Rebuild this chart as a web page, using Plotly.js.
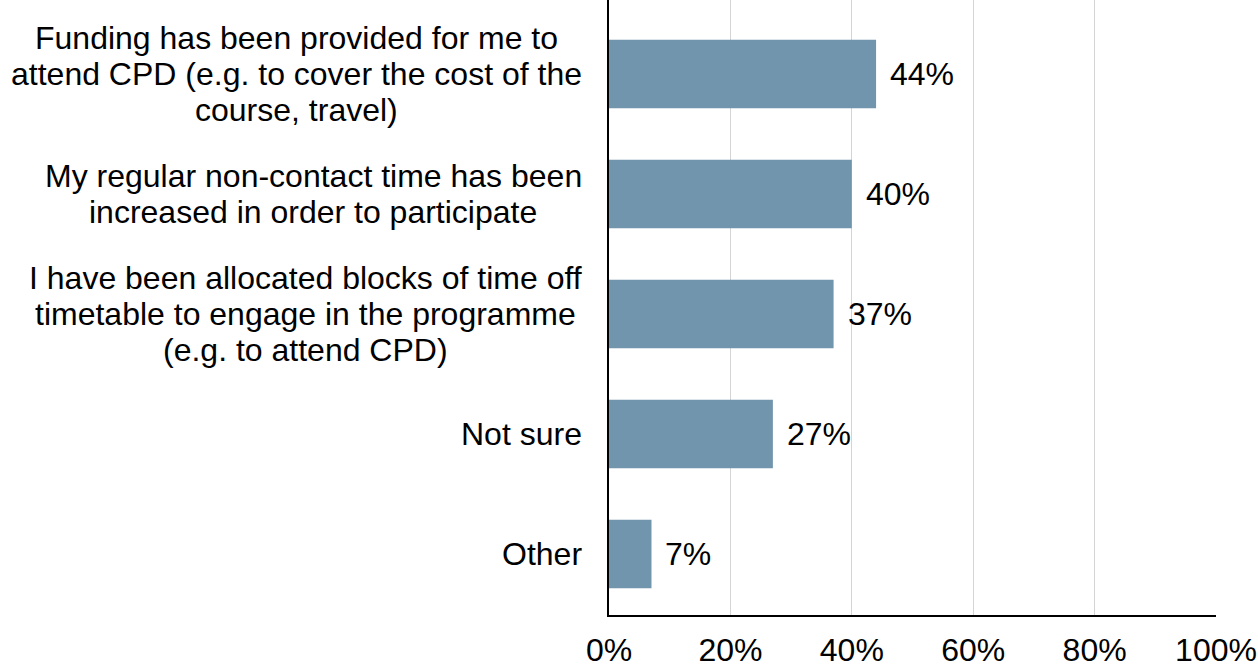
<!DOCTYPE html>
<html>
<head>
<meta charset="utf-8">
<script src="https://cdn.plot.ly/plotly-3.0.1.min.js"></script>
<style>html,body{margin:0;padding:0;background:#fff;}#chart{width:1258px;height:666px;}</style>
</head>
<body>
<div id="chart"></div>
<script>
var categories = [
  "Funding has been provided for me to<br>attend CPD (e.g. to cover the cost of the<br>course, travel)",
  "My regular non-contact time has been<br>increased in order to participate",
  "I have been allocated blocks of time off<br>timetable to engage in the programme<br>(e.g. to attend CPD)",
  "Not sure",
  "Other"
];
var values = [44, 40, 37, 27, 7];
var tickVals = [0, 20, 40, 60, 80, 100];
var tickText = ["0%", "20%", "40%", "60%", "80%", "100%"];

var FONT = "Liberation Sans, Arial, sans-serif";
var FS = 32;
var LINE_H = 36;
var GAP = 27;
var idx = categories.map(function(_, i){ return i; });

var canvas = document.createElement("canvas");
var ctx = canvas.getContext("2d");
ctx.font = FS + "px 'Liberation Sans', Arial, sans-serif";

var trace = {
  type: "bar",
  orientation: "h",
  x: values,
  y: idx,
  width: 0.57,
  marker: {color: "#7295ae", line: {width: 0}},
  hoverinfo: "none"
};

var annotations = [];
categories.forEach(function(c, i){
  var lines = c.split("<br>");
  var W = 0;
  lines.forEach(function(l){ W = Math.max(W, ctx.measureText(l).width); });
  var n = lines.length;
  lines.forEach(function(l, k){
    annotations.push({
      xref: "paper", yref: "y", x: 0, y: i, xanchor: "center", yanchor: "middle",
      text: l, showarrow: false, borderpad: 0, borderwidth: 0,
      xshift: -(GAP + W / 2), yshift: ((n - 1) / 2 - k) * LINE_H,
      font: {family: FONT, size: FS, color: "#000"}
    });
  });
  annotations.push({
    xref: "x", yref: "y", x: values[i], y: i, xanchor: "left", yanchor: "middle",
    text: values[i] + "%", showarrow: false, xshift: 14, borderpad: 0, borderwidth: 0,
    font: {family: FONT, size: FS, color: "#000"}
  });
});

var layout = {
  width: 1258, height: 666,
  margin: {l: 609, r: 42, t: 0, b: 51},
  paper_bgcolor: "#fff", plot_bgcolor: "#fff",
  showlegend: false,
  font: {family: FONT, size: FS, color: "#000"},
  xaxis: {
    range: [0, 100], tickvals: tickVals, ticktext: tickText,
    showgrid: true, gridcolor: "#d4d4d4", gridwidth: 1,
    zeroline: false, showline: true, linecolor: "#000", linewidth: 2,
    ticks: "", ticklabelstandoff: 6,
    tickfont: {family: FONT, size: FS, color: "#000"}
  },
  yaxis: {
    type: "linear", range: [4.508, -0.617],
    showticklabels: false, showgrid: false, zeroline: false,
    showline: true, linecolor: "#000", linewidth: 2, ticks: ""
  },
  annotations: annotations
};

Plotly.newPlot("chart", [trace], layout, {displayModeBar: false, staticPlot: true});
</script>
</body>
</html>
